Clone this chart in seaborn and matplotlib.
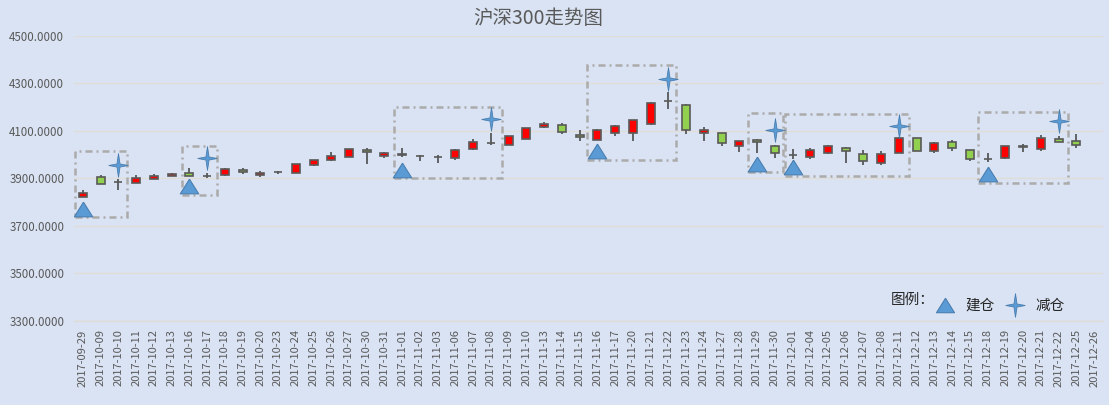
import numpy as np
import pandas as pd
import seaborn as sns
import matplotlib.pyplot as plt
from matplotlib.lines import Line2D
from matplotlib.markers import MarkerStyle
from matplotlib.patches import Rectangle
from matplotlib.path import Path

##################### data

dates = ['2017-09-29', '2017-10-09', '2017-10-10', '2017-10-11', '2017-10-12', '2017-10-13',
         '2017-10-16', '2017-10-17', '2017-10-18', '2017-10-19', '2017-10-20', '2017-10-23',
         '2017-10-24', '2017-10-25', '2017-10-26', '2017-10-27', '2017-10-30', '2017-10-31',
         '2017-11-01', '2017-11-02', '2017-11-03', '2017-11-06', '2017-11-07', '2017-11-08',
         '2017-11-09', '2017-11-10', '2017-11-13', '2017-11-14', '2017-11-15', '2017-11-16',
         '2017-11-17', '2017-11-20', '2017-11-21', '2017-11-22', '2017-11-23', '2017-11-24',
         '2017-11-27', '2017-11-28', '2017-11-29', '2017-11-30', '2017-12-01', '2017-12-04',
         '2017-12-05', '2017-12-06', '2017-12-07', '2017-12-08', '2017-12-11', '2017-12-12',
         '2017-12-13', '2017-12-14', '2017-12-15', '2017-12-18', '2017-12-19', '2017-12-20',
         '2017-12-21', '2017-12-22', '2017-12-25', '2017-12-26']

open_px = [3824, 3908, 3887, 3882, 3899, 3912, 3924, 3911, 3913, 3937, 3916, 3928,
           3924, 3955, 3979, 3992, 4022, 3993, 4005, 3996, 3990, 3987, 4023, 4050,
           4043, 4068, 4115, 4127, 4085, 4064, 4093, 4093, 4131, 4228, 4211, 4091,
           4090, 4036, 4062, 4035, 3999, 3990, 4006, 4027, 4003, 3966, 4007, 4071,
           4016, 4053, 4020, 3984, 3985, 4035, 4025, 4065, 4057, np.nan]
close_px = [3837, 3877, 3886, 3900, 3912, 3921, 3912, 3910, 3942, 3929, 3925, 3927,
            3959, 3976, 3993, 4023, 4010, 4006, 3997, 3995, 3990, 4019, 4052, 4049,
            4078, 4111, 4128, 4097, 4073, 4104, 4119, 4145, 4217, 4227, 4103, 4103,
            4049, 4057, 4054, 4008, 3998, 4018, 4037, 4017, 3972, 4003, 4070, 4015,
            4049, 4027, 3982, 3983, 4036, 4034, 4070, 4053, 4042, np.nan]
high_px = [3852, 3916, 3897, 3913, 3917, 3925, 3945, 3925, 3943, 3944, 3930, 3933,
           3961, 3977, 4012, 4024, 4029, 4011, 4030, 3997, 3997, 4025, 4065, 4090,
           4079, 4113, 4136, 4134, 4104, 4108, 4126, 4146, 4222, 4263, 4212, 4116,
           4091, 4058, 4067, 4042, 4026, 4030, 4043, 4033, 4020, 4016, 4075, 4072,
           4053, 4060, 4021, 4007, 4037, 4045, 4083, 4078, 4087, np.nan]
low_px = [3822, 3875, 3853, 3880, 3896, 3909, 3910, 3900, 3912, 3921, 3908, 3920,
          3922, 3953, 3974, 3990, 3960, 3985, 3990, 3972, 3964, 3977, 4022, 4042,
          4041, 4067, 4114, 4086, 4057, 4062, 4080, 4059, 4126, 4191, 4086, 4059,
          4036, 4011, 4007, 3988, 3981, 3980, 4005, 3965, 3957, 3957, 4006, 4014,
          4008, 4014, 3973, 3968, 3984, 4010, 4016, 4052, 4027, np.nan]

# 建仓 / 减仓 signals (category index, level)
buy_idx = [0, 6, 18, 29, 38, 40, 51]
buy_val = [3772, 3868, 3937, 4017, 3963, 3947, 3919]
sell_idx = [2, 7, 23, 33, 39, 46, 55]
sell_val = [3957, 3988, 4150, 4317, 4105, 4121, 4140]

# dashed boxes around each trade window
box_from = [-0.45, 5.57, 17.54, 28.42, 37.51, 39.57, 50.47]
box_to = [2.49, 7.58, 23.64, 33.43, 39.48, 46.56, 55.55]
box_low = [3737, 3830, 3903, 3977, 3926, 3910, 3880]
box_high = [4015, 4037, 4202, 4379, 4176, 4173, 4181]

y_ticks = [3300, 3500, 3700, 3900, 4100, 4300, 4500]

##################### styling

bg = '#DAE3F3'
grid_c = '#E0DDD6'
blue = '#5B9BD5'
blue_edge = '#4A7EB0'

sns.set_theme(style='whitegrid', rc={'axes.facecolor': bg, 'figure.facecolor': bg,
                                     'grid.color': grid_c, 'grid.linewidth': 1.0})
plt.rcParams['font.family'] = ['Noto Sans CJK SC', 'DejaVu Sans']

df = pd.DataFrame({'date': dates, 'open': open_px, 'close': close_px,
                   'high': high_px, 'low': low_px})
df['pos'] = np.arange(len(df))
df['up'] = df['close'] >= df['open']

fig = plt.figure(figsize=(11.09, 4.05), dpi=100)
ax = fig.add_axes([74 / 1109, 84 / 405, (1103 - 74) / 1109, (321 - 36) / 405])

# wicks
ax.vlines(df['pos'], df['low'], df['high'], color='#404040', lw=1.1, zorder=2)

# bodies: red up, green down
body_col = np.where(df['up'], '#FF0000', '#92D050')
ax.bar(df['pos'], df['close'] - df['open'], bottom=df['open'], width=0.45,
       color=body_col, edgecolor='#595959', linewidth=1.2, zorder=3)

# signal markers
tri = MarkerStyle(Path([(0, 0.8), (1, -0.8), (-1, -0.8), (0, 0.8)]))
star = MarkerStyle(Path([(0, 1), (0.13, 0.13), (0.82, 0), (0.13, -0.13), (0, -1),
                         (-0.13, -0.13), (-0.82, 0), (-0.13, 0.13), (0, 1)]))
sns.scatterplot(x=buy_idx, y=buy_val, marker=tri, s=175, color=blue,
                edgecolor=blue_edge, linewidth=0.8, ax=ax, zorder=5)
sns.scatterplot(x=sell_idx, y=sell_val, marker=star, s=290, color=blue,
                edgecolor=blue_edge, linewidth=0.6, ax=ax, zorder=5)

# trade boxes
for x0, x1, y0, y1 in zip(box_from, box_to, box_low, box_high):
    ax.add_patch(Rectangle((x0, y0), x1 - x0, y1 - y0, fill=False, edgecolor='#ABABAB',
                           lw=1.8, linestyle=(0, (2.8, 1.6, 0.8, 1.6)), zorder=4))

# axes
ax.set_xlim(-0.5, len(dates) - 0.5)
ax.set_ylim(3300, 4500)
ax.set_yticks(y_ticks)
ax.set_yticklabels([f'{v:.4f}' for v in y_ticks])
ax.set_xticks(df['pos'])
ax.set_xticklabels(dates, rotation=90)
ax.set_xticks(np.arange(-0.5, len(dates), 3), minor=True)
ax.grid(axis='x', which='both', visible=False)
ax.tick_params(axis='y', length=0, pad=7, labelsize=8.3, labelcolor='#595959')
ax.tick_params(axis='x', which='major', length=0, pad=6, labelsize=8, labelcolor='#595959')
ax.tick_params(axis='x', which='minor', length=5, width=1, color=grid_c)
for side in ['top', 'right', 'left']:
    ax.spines[side].set_visible(False)
ax.spines['bottom'].set_color(grid_c)
ax.spines['bottom'].set_linewidth(1.0)
ax.set_xlabel('')
ax.set_ylabel('')

# title
fig.text(538 / 1109, 1 - 18 / 405, '沪深300走势图', ha='center', va='center',
         fontsize=14, color='#595959')

# legend
fig.text(891 / 1109, 1 - 300 / 405, '图例：', ha='left', va='center',
         fontsize=10.5, color='#262626')
handles = [Line2D([], [], marker=tri, linestyle='None', markersize=13,
                  markerfacecolor=blue, markeredgecolor=blue_edge, markeredgewidth=0.8),
           Line2D([], [], marker=star, linestyle='None', markersize=17,
                  markerfacecolor=blue, markeredgecolor=blue_edge, markeredgewidth=0.6)]
ax.legend(handles, ['建仓', '减仓'], loc='center left',
          bbox_to_anchor=(928 / 1109, 1 - 306 / 405), bbox_transform=fig.transFigure,
          ncol=2, frameon=False, fontsize=10.5, handlelength=1.3, handletextpad=0.75,
          columnspacing=0.75, borderpad=0, labelcolor='#262626')

fig.savefig('out.png', dpi=100, facecolor=bg)
